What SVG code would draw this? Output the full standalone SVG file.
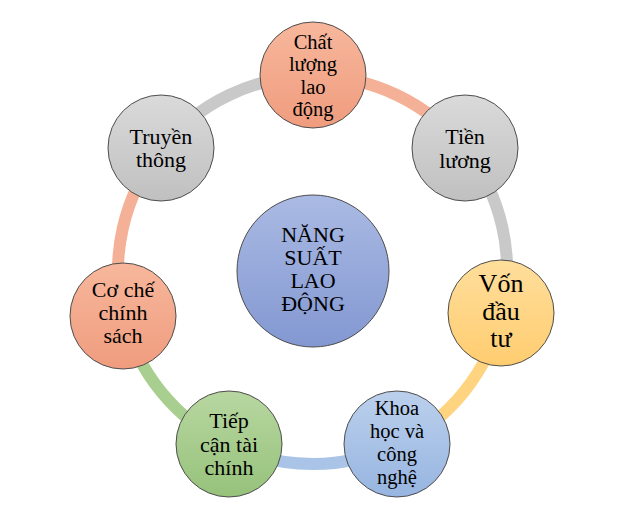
<svg xmlns="http://www.w3.org/2000/svg" width="626" height="519" viewBox="0 0 626 519">
<defs>
<linearGradient id="gSalmon" x1="0" y1="0" x2="0" y2="1"><stop offset="0" stop-color="#F7B79C"/><stop offset="1" stop-color="#F09C7E"/></linearGradient>
<linearGradient id="gGray" x1="0" y1="0" x2="0" y2="1"><stop offset="0" stop-color="#DADADA"/><stop offset="1" stop-color="#C0C0C0"/></linearGradient>
<linearGradient id="gYellow" x1="0" y1="0" x2="0" y2="1"><stop offset="0" stop-color="#FFDE9C"/><stop offset="1" stop-color="#FFCD70"/></linearGradient>
<linearGradient id="gBlue" x1="0" y1="0" x2="0" y2="1"><stop offset="0" stop-color="#BBD0EC"/><stop offset="1" stop-color="#97B5E1"/></linearGradient>
<linearGradient id="gGreen" x1="0" y1="0" x2="0" y2="1"><stop offset="0" stop-color="#B8D7A1"/><stop offset="1" stop-color="#96C27B"/></linearGradient>
<linearGradient id="gCenter" x1="0" y1="0" x2="0" y2="1"><stop offset="0" stop-color="#AABAE3"/><stop offset="1" stop-color="#8398D2"/></linearGradient>
</defs>
<style>
.arc{fill:none;stroke-width:12}
.node{stroke:#4d4d4d;stroke-width:1}
text{font-family:"Times New Roman",Times,"Liberation Serif","Nimbus Roman","Nimbus Roman No9 L","FreeSerif","Noto Serif","DejaVu Serif",serif;font-size:22px;fill:#000;text-anchor:middle}
.big{font-size:26px}
.sm{font-size:20.5px}
</style>
<rect width="626" height="519" fill="#fff"/>
<g id="connectors">
<path class="arc" stroke="#F4B198" d="M313,76 A195,195 0 0 1 465,149"/>
<path class="arc" stroke="#C9C9C9" d="M465,149 A195,195 0 0 1 502,314"/>
<path class="arc" stroke="#FFD480" d="M502,314 A195,195 0 0 1 397,445"/>
<path class="arc" stroke="#A9C4E7" d="M397,445 A195,195 0 0 1 229,445"/>
<path class="arc" stroke="#A8CF8F" d="M229,445 A195,195 0 0 1 123,315"/>
<path class="arc" stroke="#F4B198" d="M123,315 A195,195 0 0 1 161,149"/>
<path class="arc" stroke="#C9C9C9" d="M161,149 A195,195 0 0 1 313,76"/>
</g>
<g id="center">
<circle class="node" cx="313" cy="271" r="76" fill="url(#gCenter)" stroke="#3f4a66"/>
<text x="313" y="242">NĂNG</text>
<text x="313" y="265">SUẤT</text>
<text x="313" y="288">LAO</text>
<text x="313" y="311">ĐỘNG</text>
</g>
<g id="chat-luong">
<circle class="node" cx="313" cy="75" r="53" fill="url(#gSalmon)"/>
<text class="sm" x="313" y="48.5">Chất</text>
<text class="sm" x="313" y="71">lượng</text>
<text class="sm" x="313" y="93.5">lao</text>
<text class="sm" x="313" y="116">động</text>
</g>
<g id="tien-luong">
<circle class="node" cx="465" cy="148" r="53" fill="url(#gGray)"/>
<text x="465" y="144">Tiền</text>
<text x="465" y="167.5">lương</text>
</g>
<g id="von-dau-tu">
<circle class="node" cx="501" cy="313" r="53" fill="url(#gYellow)"/>
<text class="big" x="501" y="292">Vốn</text>
<text class="big" x="501" y="319.5">đầu</text>
<text class="big" x="501" y="347">tư</text>
</g>
<g id="khoa-hoc">
<circle class="node" cx="397" cy="444" r="53" fill="url(#gBlue)"/>
<text class="sm" x="397" y="415">Khoa</text>
<text class="sm" x="397" y="438">học và</text>
<text class="sm" x="397" y="461">công</text>
<text class="sm" x="397" y="484">nghệ</text>
</g>
<g id="tiep-can">
<circle class="node" cx="229" cy="444" r="53" fill="url(#gGreen)"/>
<text x="229" y="428">Tiếp</text>
<text x="229" y="451.5">cận tài</text>
<text x="229" y="474.5">chính</text>
</g>
<g id="co-che">
<circle class="node" cx="123" cy="316" r="53" fill="url(#gSalmon)"/>
<text x="123" y="297">Cơ chế</text>
<text x="123" y="320">chính</text>
<text x="123" y="343">sách</text>
</g>
<g id="truyen-thong">
<circle class="node" cx="161" cy="148" r="53" fill="url(#gGray)"/>
<text x="161" y="144">Truyền</text>
<text x="161" y="167">thông</text>
</g>
</svg>
